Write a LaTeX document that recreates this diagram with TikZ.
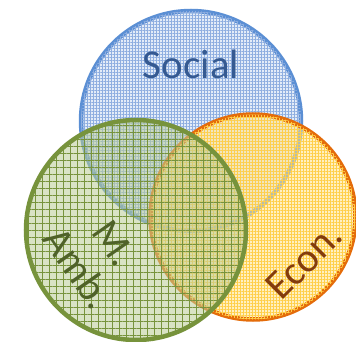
\documentclass[tikz,border=0pt]{standalone}
\usepackage{fontspec}
\setmainfont{Carlito}
\usetikzlibrary{patterns.meta}
\definecolor{socialline}{HTML}{5B8FD4}
\definecolor{socialfill}{HTML}{C2D4EF}
\definecolor{socialgrid}{HTML}{8EAEE0}
\definecolor{socialtext}{HTML}{355A92}
\definecolor{ambline}{HTML}{77933C}
\definecolor{ambfill}{HTML}{B9CC96}
\definecolor{ambtext}{HTML}{4F6228}
\definecolor{econline}{HTML}{E46C0A}
\definecolor{econfill}{HTML}{FFE38E}
\definecolor{econgrid}{HTML}{FFCF4A}
\definecolor{econtext}{HTML}{843C0C}
\begin{document}
\begin{tikzpicture}[x=1pt,y=-1pt,
	set/.style={circle,inner sep=0pt,minimum size=#1,line width=4.5pt},
	grid/.style={pattern={Hatch[angle=0,distance=#1,line width=.7pt]}},
	settext/.style={font=\fontsize{41}{44}\selectfont,align=center}]
	\useasboundingbox (0,0) rectangle (356,342);
	
	\node[set=220pt,draw=socialline,fill=socialfill,fill opacity=.45,draw opacity=1,
		postaction={grid=3pt,pattern color=socialgrid,fill opacity=.3}] (social) at (191,121) {};
	\node[set=205pt,draw=econline,fill=econfill,fill opacity=.55,draw opacity=1,
		postaction={grid=3pt,pattern color=econgrid,fill opacity=.4}] (econ) at (253,217) {};
	\node[set=220pt,draw=ambline,fill=ambfill,fill opacity=.55,draw opacity=1,
		postaction={grid=7pt,pattern color=ambline,fill opacity=.18}] (amb) at (136,230) {};
	
	\node[settext,text=socialtext] (socialname) at (191,64) {Social};
	\node[settext,text=ambtext,rotate=-55] (ambname) at (96,256) {M.\\Amb.};
	\node[settext,text=econtext,rotate=45] (econname) at (304,261) {Econ.};
\end{tikzpicture}
\end{document}
